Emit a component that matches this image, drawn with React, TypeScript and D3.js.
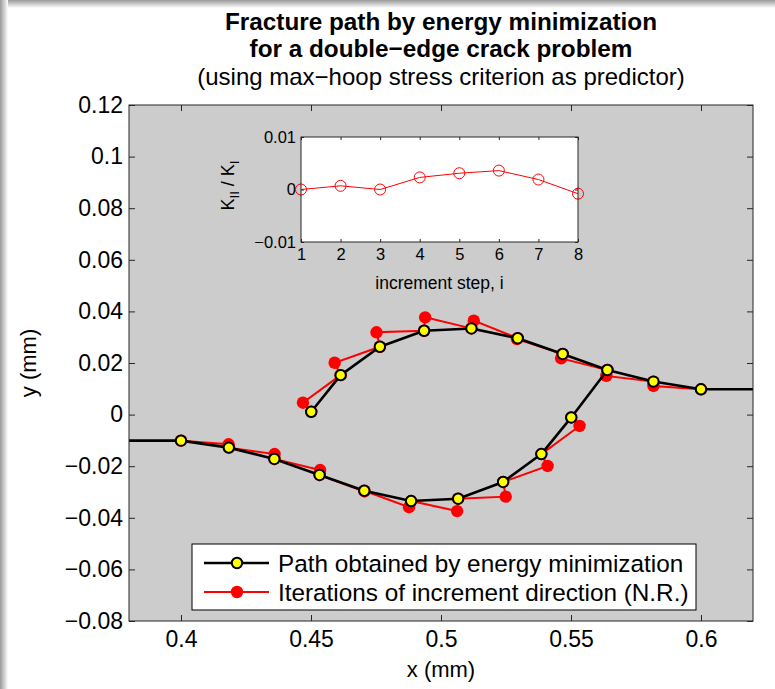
import React, { useEffect, useRef } from 'react';
import * as d3 from 'd3';

// converged path (yellow markers), lower crack grows rightwards, upper crack leftwards
const lowerPathX = [0.4, 0.4184, 0.4359, 0.4533, 0.4705, 0.4885, 0.5066, 0.5239, 0.5386, 0.5501];
const lowerPathY = [-0.0101, -0.0128, -0.0172, -0.0234, -0.0295, -0.0335, -0.0326, -0.0261, -0.0153, -0.0011];
const upperPathX = [0.6, 0.5817, 0.564, 0.5468, 0.5295, 0.5117, 0.4935, 0.4765, 0.4614, 0.4501];
const upperPathY = [0.0098, 0.0128, 0.0173, 0.0235, 0.0296, 0.0334, 0.0325, 0.0263, 0.0153, 0.0011];

// N.R. iterations (red), predictor then converged point for each increment
const lowerIterX = [0.4, 0.4183, 0.4184, 0.436, 0.4359, 0.4535, 0.4533, 0.4706, 0.4705, 0.4877, 0.4885, 0.5062, 0.5066, 0.5249, 0.5239, 0.541, 0.5386, 0.5533, 0.5501];
const lowerIterY = [-0.0101, -0.0115, -0.0128, -0.0153, -0.0172, -0.0215, -0.0234, -0.0298, -0.0295, -0.0359, -0.0335, -0.0374, -0.0326, -0.0318, -0.0261, -0.0199, -0.0153, -0.0044, -0.0011];
const upperIterX = [0.6, 0.5817, 0.5817, 0.5636, 0.564, 0.5462, 0.5468, 0.5292, 0.5295, 0.5126, 0.5117, 0.4939, 0.4935, 0.4752, 0.4765, 0.4591, 0.4614, 0.4469, 0.4501];
const upperIterY = [0.0098, 0.0111, 0.0128, 0.015, 0.0173, 0.0218, 0.0235, 0.0293, 0.0296, 0.0364, 0.0334, 0.0377, 0.0325, 0.0319, 0.0263, 0.0201, 0.0153, 0.0046, 0.0011];

// inset: K_II / K_I per increment step
const insetSteps = [1, 2, 3, 4, 5, 6, 7, 8];
const insetRatio = [0, 0.0007, 0, 0.0023, 0.0031, 0.0036, 0.0019, -0.0008];

const xTicks = [0.4, 0.45, 0.5, 0.55, 0.6];
const yTicks = [-0.08, -0.06, -0.04, -0.02, 0, 0.02, 0.04, 0.06, 0.08, 0.1, 0.12];
const insetYTicks = [-0.01, 0, 0.01];

const titleLines = ['Fracture path by energy minimization', 'for a double\u2212edge crack problem'];
const subtitle = '(using max\u2212hoop stress criterion as predictor)';
const legendLabels = ['Path obtained by energy minimization', 'Iterations of increment direction (N.R.)'];

const fmt = (d: number) => String(d).replace('-', '\u2212');

export default function App() {
  const svgRef = useRef<SVGSVGElement>(null);

  useEffect(() => {
    if (!svgRef.current) return;
    const W = 775, H = 689;
    const font = '"Liberation Sans", Arial, Helvetica, sans-serif';
    const svg = d3.select(svgRef.current);
    svg.selectAll('*').remove();
    svg.attr('width', W).attr('height', H).style('font-family', font);

    // page background with the soft shadow on top/left
    const defs = svg.append('defs');
    const gl = defs.append('linearGradient').attr('id', 'shL').attr('x1', 0).attr('x2', 1).attr('y1', 0).attr('y2', 0);
    gl.append('stop').attr('offset', 0).attr('stop-color', '#9a9a9a');
    gl.append('stop').attr('offset', 1).attr('stop-color', '#ffffff');
    const gt = defs.append('linearGradient').attr('id', 'shT').attr('x1', 0).attr('x2', 0).attr('y1', 0).attr('y2', 1);
    gt.append('stop').attr('offset', 0).attr('stop-color', '#9a9a9a');
    gt.append('stop').attr('offset', 1).attr('stop-color', '#ffffff');

    svg.append('rect').attr('width', W).attr('height', H).attr('fill', '#fff');
    svg.append('rect').attr('width', W).attr('height', 8).attr('fill', 'url(#shT)');
    svg.append('rect').attr('width', 8).attr('height', H).attr('fill', 'url(#shL)');

    // main axes
    const p = { left: 129, top: 105, right: 753, bottom: 621 };
    const x = d3.scaleLinear().domain([0.38, 0.62]).range([p.left, p.right]);
    const y = d3.scaleLinear().domain([-0.08, 0.12]).range([p.bottom, p.top]);

    svg.append('rect')
      .attr('x', p.left).attr('y', p.top)
      .attr('width', p.right - p.left).attr('height', p.bottom - p.top)
      .attr('fill', '#cccccc');

    const styleAxis = (g: any, size: number) => {
      g.select('.domain').remove();
      g.selectAll('line').attr('stroke', '#262626');
      g.selectAll('text').attr('font-size', size).attr('font-family', font).attr('fill', '#000');
    };

    svg.append('g').attr('transform', `translate(0,${p.bottom})`)
      .call(d3.axisBottom(x).tickValues(xTicks).tickSizeInner(-6).tickSizeOuter(0).tickPadding(10).tickFormat(d => fmt(+d)))
      .call(g => styleAxis(g, 23));
    svg.append('g').attr('transform', `translate(0,${p.top})`)
      .call(d3.axisTop(x).tickValues(xTicks).tickSizeInner(-6).tickSizeOuter(0).tickFormat(() => ''))
      .call(g => styleAxis(g, 23));
    svg.append('g').attr('transform', `translate(${p.left},0)`)
      .call(d3.axisLeft(y).tickValues(yTicks).tickSizeInner(-6).tickSizeOuter(0).tickPadding(6).tickFormat(d => fmt(+d)))
      .call(g => styleAxis(g, 23));
    svg.append('g').attr('transform', `translate(${p.right},0)`)
      .call(d3.axisRight(y).tickValues(yTicks).tickSizeInner(-6).tickSizeOuter(0).tickFormat(() => ''))
      .call(g => styleAxis(g, 23));

    const line = d3.line<[number, number]>().x(d => x(d[0])).y(d => y(d[1]));
    const zip = (xs: number[], ys: number[]) => xs.map((v, i) => [v, ys[i]] as [number, number]);

    // red iterations underneath
    [zip(lowerIterX, lowerIterY), zip(upperIterX, upperIterY)].forEach(pts => {
      svg.append('path').attr('d', line(pts)).attr('fill', 'none').attr('stroke', '#ff0000').attr('stroke-width', 2);
      svg.append('g').selectAll('circle').data(pts).join('circle')
        .attr('cx', d => x(d[0])).attr('cy', d => y(d[1])).attr('r', 6.2).attr('fill', '#ff0000');
    });

    // black path: initial cracks run in from the plot edges
    const lower = zip(lowerPathX, lowerPathY);
    const upper = zip(upperPathX, upperPathY);
    const lowerLine: [number, number][] = [[x.domain()[0], lowerPathY[0]], ...lower, upper[2]];
    const upperLine: [number, number][] = [[x.domain()[1], upperPathY[0]], ...upper];
    [lowerLine, upperLine].forEach(pts => {
      svg.append('path').attr('d', line(pts)).attr('fill', 'none').attr('stroke', '#000').attr('stroke-width', 2.6).attr('stroke-linejoin', 'round');
    });
    [lower, upper].forEach(pts => {
      svg.append('g').selectAll('circle').data(pts).join('circle')
        .attr('cx', d => x(d[0])).attr('cy', d => y(d[1])).attr('r', 5.2)
        .attr('fill', '#ffff00').attr('stroke', '#000').attr('stroke-width', 2);
    });

    svg.append('rect')
      .attr('x', p.left).attr('y', p.top)
      .attr('width', p.right - p.left).attr('height', p.bottom - p.top)
      .attr('fill', 'none').attr('stroke', '#262626').attr('stroke-width', 1);

    // axis labels
    svg.append('text').attr('x', (p.left + p.right) / 2).attr('y', 677)
      .attr('text-anchor', 'middle').attr('font-size', 22).text('x (mm)');
    svg.append('text').attr('transform', `translate(36,${(p.top + p.bottom) / 2}) rotate(-90)`)
      .attr('text-anchor', 'middle').attr('font-size', 22).text('y (mm)');

    // title
    const cx = (p.left + p.right) / 2;
    titleLines.forEach((t, i) => {
      svg.append('text').attr('x', cx).attr('y', 30 + i * 27)
        .attr('text-anchor', 'middle').attr('font-size', 24.3).attr('font-weight', 'bold').text(t);
    });
    svg.append('text').attr('x', cx).attr('y', 85)
      .attr('text-anchor', 'middle').attr('font-size', 24).text(subtitle);

    // inset
    const q = { left: 301, top: 137, right: 578, bottom: 242 };
    const ix = d3.scaleLinear().domain([1, 8]).range([q.left, q.right]);
    const iy = d3.scaleLinear().domain([-0.01, 0.01]).range([q.bottom, q.top]);
    svg.append('rect').attr('x', q.left).attr('y', q.top)
      .attr('width', q.right - q.left).attr('height', q.bottom - q.top).attr('fill', '#fff');

    svg.append('g').attr('transform', `translate(0,${q.bottom})`)
      .call(d3.axisBottom(ix).tickValues(insetSteps).tickSizeInner(-3).tickSizeOuter(0).tickPadding(6).tickFormat(d => fmt(+d)))
      .call(g => styleAxis(g, 16.5));
    svg.append('g').attr('transform', `translate(0,${q.top})`)
      .call(d3.axisTop(ix).tickValues(insetSteps).tickSizeInner(-3).tickSizeOuter(0).tickFormat(() => ''))
      .call(g => styleAxis(g, 16.5));
    svg.append('g').attr('transform', `translate(${q.left},0)`)
      .call(d3.axisLeft(iy).tickValues(insetYTicks).tickSizeInner(-3).tickSizeOuter(0).tickPadding(5).tickFormat(d => fmt(+d)))
      .call(g => styleAxis(g, 16.5));
    svg.append('g').attr('transform', `translate(${q.right},0)`)
      .call(d3.axisRight(iy).tickValues(insetYTicks).tickSizeInner(-3).tickSizeOuter(0).tickFormat(() => ''))
      .call(g => styleAxis(g, 16.5));

    const ipts = insetSteps.map((s, i) => [s, insetRatio[i]] as [number, number]);
    const iline = d3.line<[number, number]>().x(d => ix(d[0])).y(d => iy(d[1]));
    svg.append('path').attr('d', iline(ipts)).attr('fill', 'none').attr('stroke', '#ff0000').attr('stroke-width', 1);
    svg.append('g').selectAll('circle').data(ipts).join('circle')
      .attr('cx', d => ix(d[0])).attr('cy', d => iy(d[1])).attr('r', 5.5)
      .attr('fill', 'none').attr('stroke', '#ff0000').attr('stroke-width', 1);

    svg.append('rect').attr('x', q.left).attr('y', q.top)
      .attr('width', q.right - q.left).attr('height', q.bottom - q.top)
      .attr('fill', 'none').attr('stroke', '#262626').attr('stroke-width', 1);

    svg.append('text').attr('x', (q.left + q.right) / 2).attr('y', 289)
      .attr('text-anchor', 'middle').attr('font-size', 17.5).text('increment step, i');

    const kl = svg.append('text')
      .attr('transform', `translate(234,${(q.top + q.bottom) / 2 - 4}) rotate(-90)`)
      .attr('text-anchor', 'middle').attr('font-size', 18);
    kl.append('tspan').text('K');
    kl.append('tspan').attr('font-size', 13).attr('dy', 5).text('II');
    kl.append('tspan').attr('dy', -5).text(' / K');
    kl.append('tspan').attr('font-size', 13).attr('dy', 5).text('I');

    // legend
    const lg = { x: 192, y: 544, w: 504, h: 66 };
    svg.append('rect').attr('x', lg.x).attr('y', lg.y).attr('width', lg.w).attr('height', lg.h)
      .attr('fill', '#fff').attr('stroke', '#000').attr('stroke-width', 1);
    const rows = [
      { stroke: '#000', fill: '#ffff00', ms: '#000', r: 5.2, sw: 2.6 },
      { stroke: '#ff0000', fill: '#ff0000', ms: 'none', r: 6.2, sw: 2 },
    ];
    rows.forEach((row, i) => {
      const ry = lg.y + 19 + i * 29;
      svg.append('line').attr('x1', lg.x + 12).attr('x2', lg.x + 77).attr('y1', ry).attr('y2', ry)
        .attr('stroke', row.stroke).attr('stroke-width', row.sw);
      svg.append('circle').attr('cx', lg.x + 45).attr('cy', ry).attr('r', row.r)
        .attr('fill', row.fill).attr('stroke', row.ms).attr('stroke-width', 2);
      svg.append('text').attr('x', lg.x + 86).attr('y', ry).attr('dy', '0.36em')
        .attr('font-size', 24.3).text(legendLabels[i]);
    });
  }, []);

  return <svg ref={svgRef} style={{ position: 'absolute', left: 0, top: 0 }} />;
}
